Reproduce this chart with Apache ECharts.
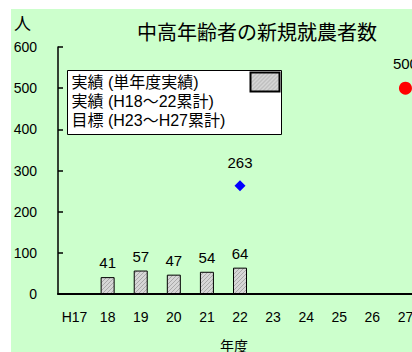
<!DOCTYPE html>
<html>
<head>
<meta charset="utf-8">
<script src="https://cdn.jsdelivr.net/npm/echarts@6/dist/echarts.min.js"></script>
<style>
  html, body { margin: 0; padding: 0; background: #ffffff; width: 412px; height: 352px; overflow: hidden; }
  #chart { position: absolute; left: 11px; top: 9px; width: 401px; height: 343px; }
</style>
</head>
<body>
<div id="chart"></div>
<script>
// 年度 categories and the three series
const years = ['H17', '18', '19', '20', '21', '22', '23', '24', '25', '26', '27'];
const annualActual = [null, 41, 57, 47, 54, 64, null, null, null, null, null];   // 実績 (単年度実績)
const cumulativeActual = [null, null, null, null, null, 263, null, null, null, null, null]; // 実績 (H18～22累計)
const cumulativeTarget = [null, null, null, null, null, null, null, null, null, null, 500]; // 目標 (H23～H27累計)
const yTicks = [0, 100, 200, 300, 400, 500, 600];

const FONT = '"Liberation Sans", "Noto Sans CJK JP", sans-serif';

// fine hatch used for the bar fill
function hatch() {
  const c = document.createElement('canvas');
  c.width = 4; c.height = 4;
  const g = c.getContext('2d');
  g.fillStyle = '#d6d6d6';
  g.fillRect(0, 0, 4, 4);
  g.fillStyle = '#a9a9a9';
  for (let i = 0; i < 4; i++) g.fillRect(i, 3 - i, 1, 1);
  return { image: c, repeat: 'repeat' };
}

const chart = echarts.init(document.getElementById('chart'), null, { renderer: 'svg' });

chart.setOption({
  backgroundColor: '#ccffcc',
  animation: false,
  textStyle: { fontFamily: FONT, color: '#000' },
  title: {
    text: '中高年齢者の新規就農者数',
    left: 121, top: 9,
    textStyle: { fontFamily: FONT, fontSize: 20, fontWeight: 'normal', color: '#000' }
  },
  grid: { left: 47, right: -10, top: 38, bottom: 58, outerBoundsMode: 'none', containLabel: false },
  xAxis: {
    type: 'category',
    data: years,
    boundaryGap: true,
    name: '年度',
    nameLocation: 'middle',
    nameGap: 45,
    nameTextStyle: { fontFamily: FONT, fontSize: 14, color: '#000', padding: [0, 12, 0, 0] },
    axisLine: { lineStyle: { color: '#000', width: 2 } },
    axisTick: { inside: true, length: 6, interval: 0, lineStyle: { color: '#000', width: 1.5 } },
    axisLabel: { fontFamily: FONT, fontSize: 14, color: '#000', margin: 16, interval: 0 },
    splitLine: { show: false }
  },
  yAxis: {
    type: 'value',
    min: yTicks[0],
    max: yTicks[yTicks.length - 1],
    interval: 100,
    name: '人',
    nameLocation: 'end',
    nameGap: 14,
    nameTextStyle: { fontFamily: FONT, fontSize: 17, color: '#000', align: 'left', padding: [0, 0, 0, -44] },
    axisLine: { show: true, lineStyle: { color: '#000', width: 1.5 } },
    axisTick: { show: true, inside: true, length: 5, lineStyle: { color: '#000', width: 1.5 } },
    axisLabel: { fontFamily: FONT, fontSize: 14, color: '#000', margin: 21 },
    splitLine: { show: false }
  },
  series: [
    {
      name: '実績 (単年度実績)',
      type: 'bar',
      data: annualActual,
      barWidth: 14,
      itemStyle: { color: hatch(), borderColor: '#000', borderWidth: 1 },
      label: { show: true, position: 'top', distance: 7, fontFamily: FONT, fontSize: 15, color: '#000' }
    },
    {
      name: '実績 (H18～22累計)',
      type: 'line',
      data: cumulativeActual,
      symbol: 'diamond',
      symbolSize: 11,
      lineStyle: { width: 0 },
      itemStyle: { color: '#0000ff' },
      label: { show: true, position: 'top', distance: 10, fontFamily: FONT, fontSize: 15, color: '#000' }
    },
    {
      name: '目標 (H23～H27累計)',
      type: 'line',
      data: cumulativeTarget,
      symbol: 'circle',
      symbolSize: 13,
      lineStyle: { width: 0 },
      itemStyle: { color: '#ff0000' },
      label: { show: true, position: 'top', distance: 11, fontFamily: FONT, fontSize: 15, color: '#000' }
    }
  ],
  graphic: [
    {
      type: 'group',
      left: 56, top: 61,
      children: [
        { type: 'rect', shape: { x: 0, y: 0, width: 214, height: 64 },
          style: { fill: '#ffffff', stroke: '#000', lineWidth: 1 } },
        { type: 'rect', shape: { x: 183, y: 2, width: 29, height: 19 },
          style: { fill: hatch(), stroke: '#000', lineWidth: 2 } },
        { type: 'text', x: 4, y: 12, style: { text: '実績 (単年度実績)', font: '16px ' + FONT, fill: '#000', textVerticalAlign: 'middle' } },
        { type: 'text', x: 4, y: 31, style: { text: '実績 (H18～22累計)', font: '16px ' + FONT, fill: '#000', textVerticalAlign: 'middle' } },
        { type: 'text', x: 4, y: 50, style: { text: '目標 (H23～H27累計)', font: '16px ' + FONT, fill: '#000', textVerticalAlign: 'middle' } }
      ]
    }
  ]
});
</script>
</body>
</html>
